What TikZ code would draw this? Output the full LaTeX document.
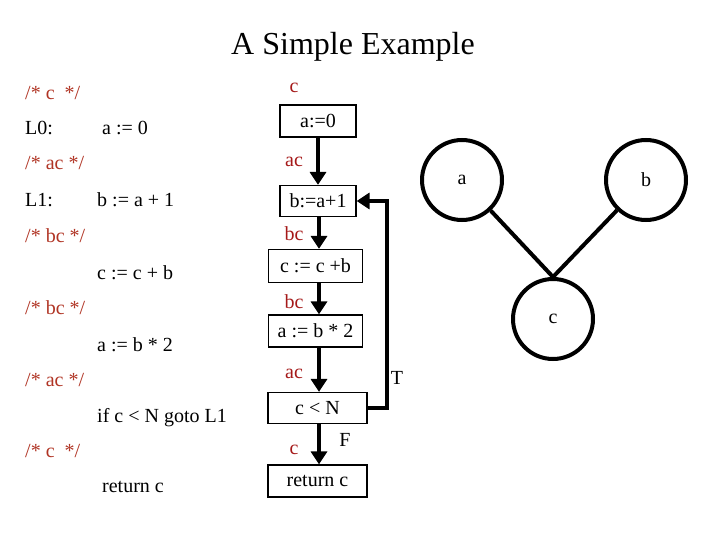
\documentclass[tikz,border=0pt]{standalone}
\usepackage{fontspec}
\setmainfont{Liberation Serif}
\usetikzlibrary{arrows.meta}
\definecolor{cmt}{RGB}{176,52,36}
\definecolor{lbl}{RGB}{165,25,25}
\begin{document}
\begin{tikzpicture}[x=1pt,y=-1pt, font=\fontsize{20}{24}\selectfont,
  code/.style={anchor=base west, inner sep=0pt},
  cmtext/.style={code, text=cmt},
  blk/.style={draw, line width=1.2pt, minimum height=32pt, inner sep=2pt},
  lv/.style={text=lbl, inner sep=0pt},
  flow/.style={line width=4pt, -{Triangle[width=16pt,length=13pt]}},
  var/.style={circle, draw, line width=4pt, minimum size=80pt, inner sep=0pt}]
\useasboundingbox (0,0) rectangle (720,540);
% title
\node[font=\fontsize{32}{38}\selectfont] (title) at (353,47) {A Simple Example};
% left code listing
\node[cmtext] (k1) at (25,100) {/* c\ \ */};
\node[code] (l0) at (25,135) {L0:};
\node[code] (s0) at (102,135) {a :=\ 0};
\node[cmtext] (k2) at (25,170) {/* ac */};
\node[code] (l1) at (25,207) {L1:};
\node[code] (s1) at (97,207) {b := a + 1};
\node[cmtext] (k3) at (25,242) {/* bc */};
\node[code] (s2) at (97,279) {c := c + b};
\node[cmtext] (k4) at (25,314) {/* bc */};
\node[code] (s3) at (97,351) {a := b * 2};
\node[cmtext] (k5) at (25,386) {/* ac */};
\node[code] (s4) at (97,422) {if c < N goto L1};
\node[cmtext] (k6) at (25,457) {/* c\ \ */};
\node[code] (s5) at (102,492) {return c};
% flow graph
\node[blk, minimum width=76pt] (b0) at (318,121) {a:=0};
\node[blk, minimum width=76pt, minimum height=31pt] (b1) at (318,201) {b:=a+1};
\node[blk, minimum width=94pt, minimum height=33pt] (b2) at (315.5,266) {c := c +b};
\node[blk, minimum width=94pt] (b3) at (315.5,331) {a := b * 2};
\node[blk, minimum width=99pt, minimum height=31pt] (b4) at (317.5,408) {c < N};
\node[blk, minimum width=99pt] (b5) at (317.5,481) {return c};
\draw[flow] (b0.south) -- (b1.north);
\draw[flow] ([xshift=1pt]b1.south) -- ([xshift=1pt]b1.south |- b2.north);
\draw[flow] ([xshift=1pt]b1.south |- b2.south) -- ([xshift=1pt]b1.south |- b3.north);
\draw[flow] ([xshift=1pt]b1.south |- b3.south) -- ([xshift=1pt]b1.south |- b4.north);
\draw[flow] ([xshift=1pt]b1.south |- b4.south) -- ([xshift=1pt]b1.south |- b5.north);
\draw[flow] (b4.east) -- ++(19,0) |- (b1.east);
% liveness labels
\node[lv] (v0) at (294,88) {c};
\node[lv] (v1) at (294,162) {ac};
\node[lv] (v2) at (294,234) {bc};
\node[lv] (v3) at (294,302) {bc};
\node[lv] (v4) at (294,374) {ac};
\node[lv] (v5) at (294,450) {c};
\node (t) at (397,378) {T};
\node (f) at (345,440) {F};
% interference graph
\node[var] (a) at (462,180) {a};
\node[var] (b) at (646,180) {b};
\node[var] (c) at (553,319) {c};
\draw[line width=4pt] (a) -- (c.north);
\draw[line width=4pt] (b) -- (c.north);
\end{tikzpicture}
\end{document}
